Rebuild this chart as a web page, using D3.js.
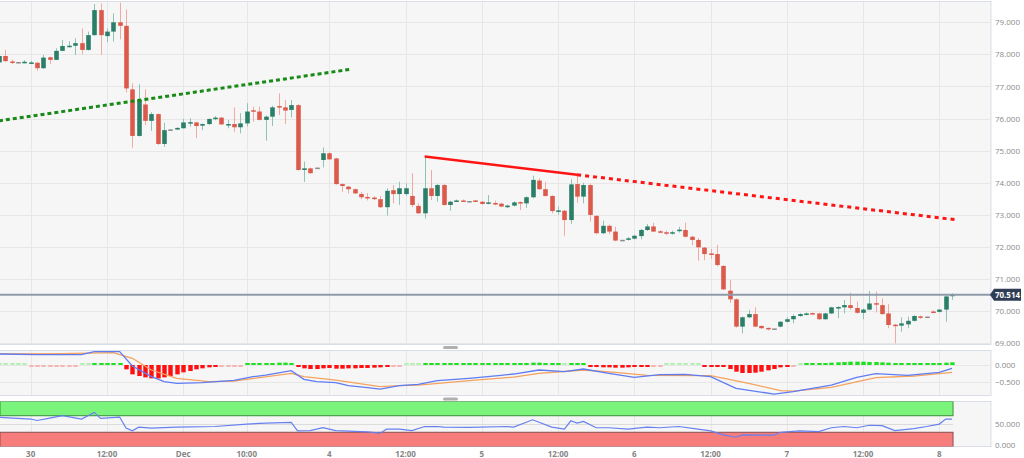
<!DOCTYPE html>
<html>
<head>
<meta charset="utf-8">
<script src="https://cdn.jsdelivr.net/npm/d3@7/dist/d3.min.js"></script>
<style>
  body { margin: 0; background: #fff; }
  svg { display: block; font-family: "Open Sans", sans-serif; }
</style>
</head>
<body>
<div id="chart-container"></div>
<script>
// hourly candles, index 0 = first visible candle
const openV = [77.75,77.95,77.78,77.74,77.75,77.73,77.74,77.57,77.91,77.83,78.11,78.25,78.27,78.35,78.14,78.60,79.38,78.57,78.71,79.00,
  78.89,76.91,75.46,76.44,75.93,76.14,75.21,75.64,75.66,75.70,75.87,75.88,75.78,75.83,75.99,76.03,75.81,75.83,75.73,75.85,
  76.26,76.22,75.96,76.06,76.39,76.35,76.27,76.42,74.40,74.45,74.45,74.71,74.92,74.76,73.96,73.88,73.80,73.65,73.56,73.54,
  73.49,73.24,73.77,73.65,73.65,73.59,73.28,73.05,73.83,73.59,73.93,73.31,73.42,73.45,73.41,73.45,73.41,73.37,73.37,73.35,
  73.24,73.29,73.40,73.36,73.55,74.07,73.80,73.59,73.12,73.13,72.84,73.96,73.57,73.93,72.97,72.43,72.66,72.48,72.20,72.24,
  72.26,72.34,72.53,72.64,72.49,72.46,72.44,72.52,72.53,72.32,72.22,71.98,71.80,71.78,71.41,70.64,70.37,69.52,69.81,69.91,
  69.54,69.48,69.44,69.52,69.67,69.75,69.85,69.90,69.94,69.93,69.75,69.93,70.11,70.12,70.19,70.10,69.95,70.05,70.25,70.19,
  69.93,69.58,69.55,69.59,69.70,69.84,69.81,69.99,69.98,70.05,70.48];
const highV = [78.00,78.14,77.83,77.76,77.82,77.80,77.76,77.98,77.93,78.19,78.45,78.41,78.50,78.81,78.71,79.57,79.59,78.81,79.28,79.61,
  79.40,77.10,77.07,76.91,76.20,76.16,75.87,75.66,75.73,75.99,76.01,75.90,75.85,76.00,76.08,76.05,75.96,76.35,76.17,76.48,
  76.37,76.37,76.10,76.40,76.79,76.58,76.58,76.45,74.66,74.47,74.47,75.10,74.95,74.78,73.98,73.90,73.82,73.72,73.68,73.58,
  73.59,73.83,73.93,74.03,73.98,74.30,73.36,74.82,74.40,73.97,73.96,73.44,73.48,73.48,73.43,73.47,73.43,73.62,73.44,73.38,
  73.32,73.42,73.42,73.58,74.22,74.14,74.03,73.61,73.26,73.15,74.11,74.25,74.00,73.98,72.99,72.82,72.70,72.63,72.22,72.31,
  72.38,72.56,72.72,72.75,72.52,72.51,72.51,72.63,72.76,72.35,72.28,72.00,71.94,72.06,71.43,70.97,70.40,69.84,70.04,70.12,
  69.56,69.49,69.45,69.69,69.81,69.90,69.94,69.96,69.96,69.95,69.95,70.14,70.16,70.35,70.58,70.30,70.08,70.63,70.61,70.40,
  70.22,69.60,69.81,69.83,69.88,69.86,69.82,70.03,70.07,70.50,70.56];
const lowV = [77.70,77.77,77.70,77.72,77.72,77.72,77.49,77.55,77.70,77.82,78.10,78.22,77.98,78.00,78.12,78.58,77.98,78.38,78.40,78.47,
  76.81,75.09,75.44,75.80,75.62,75.18,75.12,75.62,75.64,75.69,75.75,75.39,75.64,75.80,75.95,75.80,75.70,75.59,75.54,75.75,
  75.90,75.94,75.31,75.77,76.11,75.83,76.04,74.38,74.03,74.28,74.43,74.48,74.71,73.94,73.72,73.67,73.65,73.49,73.45,73.46,
  73.22,72.98,73.36,73.31,73.59,73.24,73.03,72.89,73.46,73.41,73.29,73.13,73.40,73.40,73.39,73.41,73.32,73.33,73.30,73.24,
  73.21,73.26,73.15,73.22,73.52,73.78,73.57,73.05,73.00,72.35,72.72,73.38,73.36,72.79,72.40,72.40,72.40,72.18,72.18,72.20,
  72.23,72.24,72.50,72.46,72.44,72.37,72.39,72.45,72.30,72.06,71.57,71.59,71.63,71.40,70.66,70.26,69.49,69.31,69.79,69.50,
  69.45,69.40,69.43,69.50,69.65,69.62,69.83,69.87,69.90,69.73,69.73,69.91,69.78,69.93,70.04,69.92,69.75,70.03,69.96,69.89,
  69.47,69.00,69.36,69.47,69.68,69.76,69.80,69.96,69.96,69.67,70.35];
const closeV = [77.95,77.79,77.75,77.74,77.77,77.75,77.57,77.90,77.83,78.11,78.26,78.27,78.35,78.14,78.60,79.38,78.60,78.71,79.00,78.89,
  76.94,75.46,76.58,75.93,76.14,75.21,75.64,75.64,75.71,75.88,75.89,75.77,75.83,75.99,76.03,75.82,75.83,75.73,75.85,76.22,
  76.22,75.96,76.06,76.35,76.35,76.25,76.42,74.40,74.45,74.30,74.45,74.92,74.73,73.96,73.90,73.80,73.67,73.55,73.54,73.49,
  73.24,73.75,73.65,73.83,73.83,73.31,73.05,73.83,73.59,73.93,73.31,73.41,73.45,73.43,73.41,73.43,73.34,73.39,73.35,73.26,
  73.29,73.39,73.38,73.55,74.09,73.80,73.59,73.12,73.14,72.84,73.95,73.57,73.93,73.00,72.43,72.66,72.48,72.20,72.20,72.27,
  72.35,72.53,72.64,72.48,72.46,72.44,72.46,72.54,72.32,72.22,71.99,71.78,71.77,71.44,70.68,70.37,69.52,69.81,69.91,69.52,
  69.47,69.46,69.44,69.67,69.75,69.85,69.91,69.93,69.92,69.75,69.93,70.12,70.13,70.19,70.10,69.95,70.05,70.24,70.23,69.91,
  69.57,69.56,69.62,69.70,69.85,69.82,69.81,69.97,70.05,70.46,70.514];

// time axis: candle index -> label
const timeTickIdx = [5, 17, 29, 39, 52, 64, 76, 88, 100, 112, 124, 136, 148];
const timeTickLabels = ["30", "12:00", "Dec", "10:00", "4", "12:00", "5", "12:00", "6", "12:00", "7", "12:00", "8"];
const priceTicks = [69, 70, 71, 72, 73, 74, 75, 76, 77, 78, 79];

// MACD histogram, one value per candle
const histV = [0.01,0.01,0.01,0.01,0.01, -0.01,-0.01,-0.01,-0.01,-0.01,-0.01,-0.01,-0.01, 0.01,0.01, 0.05, 0.02,0.02,0.02,0.02,
  -0.13,-0.28,-0.33,-0.37,-0.40,-0.40,-0.37,-0.33,-0.28,-0.22,-0.18,-0.13,-0.10,-0.07,-0.05,
  -0.01,-0.01,-0.01,-0.01,
  0.02,0.03,0.04,0.05,0.06,0.07,0.07,0.06,
  -0.03,-0.10,-0.12,-0.12,-0.10,-0.09,-0.11,-0.11,-0.10,-0.10,-0.09,-0.09,-0.08,-0.07,-0.03,
  -0.01,-0.01,0.01,0.01,0.01,
  0.02,0.03,0.04,0.05,0.04,0.04,0.04,0.03,0.03,0.03,0.03,0.03,0.02,0.02,0.02,0.02,0.03,0.07,0.07,0.05,0.02,0.02,0.00,0.03,0.04,0.03,
  -0.02,-0.05,-0.07,-0.07,-0.08,-0.08,-0.07,-0.06,-0.05,-0.03,
  -0.01,-0.01,
  0.01,0.01,0.01,0.01,0.01,0.01,
  -0.02,-0.02,-0.02,
  -0.06,-0.12,-0.20,-0.24,-0.24,-0.23,-0.20,-0.16,-0.12,-0.07,-0.03,
  -0.01,0.01,
  0.02,0.03,0.04,0.05,0.07,0.08,0.09,0.10,0.10,0.10,0.09,0.09,0.08,0.07,0.05,0.03,0.02,0.02,0.02,0.02,0.03,0.04,0.07,0.08];
const macdIdx = [0,6,13,15,19,21,24,26,28,32,37,40,42,46,48,50,53,55,58,60,63,66,69,74,79,81,85,89,92,96,100,104,108,112,116,122,125,131,135,138,143,148,150];
const macdV = [0.33,0.31,0.31,0.40,0.40,-0.03,-0.35,-0.50,-0.55,-0.53,-0.46,-0.35,-0.30,-0.17,-0.43,-0.50,-0.53,-0.62,-0.68,-0.72,-0.62,-0.58,-0.47,-0.40,-0.31,-0.27,-0.15,-0.20,-0.12,-0.25,-0.37,-0.29,-0.28,-0.35,-0.70,-0.87,-0.80,-0.60,-0.37,-0.26,-0.31,-0.22,-0.10];
const signalIdx = [0,10,18,21,24,28,33,37,46,48,53,60,63,66,74,81,85,92,97,102,112,118,123,125,131,138,144,150];
const signalV = [0.33,0.34,0.37,0.20,-0.15,-0.40,-0.50,-0.48,-0.25,-0.35,-0.45,-0.65,-0.62,-0.60,-0.47,-0.36,-0.25,-0.15,-0.22,-0.31,-0.32,-0.55,-0.77,-0.78,-0.67,-0.38,-0.33,-0.22];
const macdTicks = [0, -0.5];

// RSI
const rsiIdx = [0,5,6,8,10,13,15,16,19,20,21,22,24,28,34,39,42,46,47,49,51,53,58,60,61,63,65,67,69,70,74,80,81,84,87,89,90,91,92,94,96,99,102,104,107,110,112,114,116,117,122,123,126,129,131,133,135,137,139,141,144,146,148,149,150];
const rsiV = [66,62,58.5,64.4,70,62,78,63.4,66.8,40,33.4,42.4,40,42.4,43.9,49.8,52.2,53.7,33.4,34,41,34,31,27.8,37.5,37.5,34,43.9,43.9,42.4,42,43.9,42.4,60.2,42.4,37.5,57.8,52.2,56.3,41,41,37.5,42.4,41,44,37.5,33.4,23.7,18,23.7,23,30,33.4,31.7,41,44,41,47,46,34,39,44,49.8,61.9,62];
const rsiTicks = [50, 0];
const rsiBandLevels = [70, 30];

// trend lines: [candle index], [price]
const greenTrendIdx = [0, 55.5], greenTrendP = [75.93, 77.54];
const redTrendIdx = [67, 91], redTrendP = [74.82, 74.25];
const redExtIdx = [91, 151], redExtP = [74.25, 72.84];

const lastPrice = 70.514;

// ---------------------------------------------------------------
const W = 1024, H = 458;
const plotL = 0, plotR = 991;
const step = 6.354;

const x = d3.scaleLinear().domain([0, 156]).range([-1.07, -1.07 + 156 * step]);
const yPrice = d3.scaleLinear().domain([69, 79]).range([343.3, 22.3]);
const yMacd = d3.scaleLinear().domain([-0.5, 0]).range([381.7, 365]);
const yRsi = d3.scaleLinear().domain([0, 50]).range([444.7, 424]);

const panels = [
  { id: "main", top: 1.5, bottom: 344.5 },
  { id: "macd", top: 350.5, bottom: 395.5 },
  { id: "rsi", top: 401.5, bottom: 446.5 }
];

const GREEN = "#2b7f69", RED = "#dc5a4b";
const GREEN_W = "#8fc3b3", RED_W = "#f0aaa0";
const GRID = "#e7e7e7", BORDER = "#d9dde6", LABEL = "#8a8a8a";

const svg = d3.select("#chart-container").append("svg")
  .attr("width", W).attr("height", H);

const defs = svg.append("defs");

// panel backgrounds, clips, vertical grid
panels.forEach(p => {
  defs.append("clipPath").attr("id", "clip-" + p.id)
    .append("rect").attr("x", plotL).attr("y", p.top)
    .attr("width", plotR - plotL).attr("height", p.bottom - p.top);

  svg.append("rect")
    .attr("x", plotL - 1).attr("y", p.top)
    .attr("width", plotR - plotL + 1).attr("height", p.bottom - p.top)
    .attr("fill", "#f6f6f6").attr("stroke", BORDER);

  svg.append("g").selectAll("line").data(timeTickIdx).join("line")
    .attr("x1", d => Math.round(x(d)) + 0.5).attr("x2", d => Math.round(x(d)) + 0.5)
    .attr("y1", p.top + 0.5).attr("y2", p.bottom - 0.5)
    .attr("stroke", GRID);
});

// ---- main price panel
const main = svg.append("g").attr("clip-path", "url(#clip-main)");

main.selectAll("line.hgrid").data(priceTicks).join("line")
  .attr("class", "hgrid")
  .attr("x1", plotL).attr("x2", plotR)
  .attr("y1", d => Math.round(yPrice(d)) + 0.5).attr("y2", d => Math.round(yPrice(d)) + 0.5)
  .attr("stroke", GRID);

const candles = openV.map((o, i) => ({ i, o, h: highV[i], l: lowV[i], c: closeV[i] }));
const candleColor = d => d.c > d.o ? GREEN : (d.c < d.o ? RED : "#8c8c8c");
const wickColor = d => d.c > d.o ? GREEN_W : (d.c < d.o ? RED_W : "#9a9a9a");
const bodyW = 4.6;

main.selectAll("line.wick").data(candles).join("line")
  .attr("class", "wick")
  .attr("x1", d => Math.round(x(d.i)) + 0.5).attr("x2", d => Math.round(x(d.i)) + 0.5)
  .attr("y1", d => yPrice(d.h)).attr("y2", d => yPrice(d.l))
  .attr("stroke", wickColor).attr("stroke-width", 1);

main.selectAll("rect.body").data(candles).join("rect")
  .attr("class", "body")
  .attr("x", d => Math.round(x(d.i)) + 0.5 - bodyW / 2)
  .attr("y", d => d.o === d.c ? yPrice(d.o) - 0.75 : yPrice(Math.max(d.o, d.c)))
  .attr("width", bodyW)
  .attr("height", d => Math.max(1.5, Math.abs(yPrice(d.o) - yPrice(d.c))))
  .attr("fill", candleColor);

// trend lines
const trendLine = d3.line().x(d => x(d[0])).y(d => yPrice(d[1]));
main.append("path")
  .attr("d", trendLine(d3.zip(greenTrendIdx, greenTrendP)))
  .attr("fill", "none").attr("stroke", "#178a17").attr("stroke-width", 3)
  .attr("stroke-dasharray", "4,3");
main.append("path")
  .attr("d", trendLine(d3.zip(redTrendIdx, redTrendP)))
  .attr("fill", "none").attr("stroke", "#ff1414").attr("stroke-width", 2.5);
main.append("path")
  .attr("d", trendLine(d3.zip(redExtIdx, redExtP)))
  .attr("fill", "none").attr("stroke", "#ff1414").attr("stroke-width", 3)
  .attr("stroke-dasharray", "4,4");

// current price line
main.append("line")
  .attr("x1", plotL).attr("x2", plotR)
  .attr("y1", yPrice(lastPrice)).attr("y2", yPrice(lastPrice))
  .attr("stroke", "#8f9bab").attr("stroke-width", 2);

// ---- MACD panel
const macdG = svg.append("g").attr("clip-path", "url(#clip-macd)");
macdG.selectAll("line.hgrid").data(macdTicks).join("line")
  .attr("x1", plotL).attr("x2", plotR)
  .attr("y1", d => Math.round(yMacd(d)) + 0.5).attr("y2", d => Math.round(yMacd(d)) + 0.5)
  .attr("stroke", GRID);

const histColor = v => {
  const pale = Math.abs(v) <= 0.01;
  if (v >= 0) return pale ? "#b4efb4" : "#1fe01f";
  return pale ? "#f7b4b4" : "#ff1010";
};
macdG.selectAll("rect.hist").data(histV).join("rect")
  .attr("x", (d, i) => Math.round(x(i)) + 0.5 - 2.2)
  .attr("width", 4.4)
  .attr("y", d => d >= 0 ? Math.min(yMacd(d), yMacd(0) - 2) : yMacd(0))
  .attr("height", d => Math.max(2, Math.abs(yMacd(d) - yMacd(0))))
  .attr("fill", histColor);

const macdLine = d3.line().x(d => x(d[0])).y(d => yMacd(d[1]));
macdG.append("path").attr("d", macdLine(d3.zip(signalIdx, signalV)))
  .attr("fill", "none").attr("stroke", "#f5a35e").attr("stroke-width", 1.3);
macdG.append("path").attr("d", macdLine(d3.zip(macdIdx, macdV)))
  .attr("fill", "none").attr("stroke", "#5f7cf2").attr("stroke-width", 1.3);

// ---- RSI panel
const rsiG = svg.append("g").attr("clip-path", "url(#clip-rsi)");
const lastX = x(openV.length - 1) + 1;
const rsiTop = yRsi.invert(panels[2].top);

rsiG.append("rect")
  .attr("x", plotL).attr("y", yRsi(rsiTop))
  .attr("width", lastX - plotL).attr("height", yRsi(rsiBandLevels[0]) - yRsi(rsiTop))
  .attr("fill", "#7bf47b").attr("stroke", "#3b8e3b").attr("stroke-width", 1);
rsiG.append("rect")
  .attr("x", plotL).attr("y", yRsi(rsiBandLevels[1]))
  .attr("width", lastX - plotL).attr("height", yRsi(0) + 2 - yRsi(rsiBandLevels[1]))
  .attr("fill", "#f77c7c").attr("stroke", "#8c4f4f").attr("stroke-width", 1);

rsiG.selectAll("line.hgrid").data([50]).join("line")
  .attr("x1", plotL).attr("x2", lastX)
  .attr("y1", d => Math.round(yRsi(d)) + 0.5).attr("y2", d => Math.round(yRsi(d)) + 0.5)
  .attr("stroke", "#dcdcdc");

const rsiLine = d3.line().x(d => x(d[0])).y(d => yRsi(d[1]));
rsiG.append("path").attr("d", rsiLine(d3.zip(rsiIdx, rsiV)))
  .attr("fill", "none").attr("stroke", "#6680f0").attr("stroke-width", 1.2);

// ---- resize handles between panels
svg.selectAll("rect.handle").data([346, 397.5]).join("rect")
  .attr("x", 443).attr("y", d => d).attr("width", 15).attr("height", 3)
  .attr("rx", 1.5).attr("fill", "#b0b0b0");

// ---- right axis labels
const axisText = (sel) => sel
  .attr("x", 995)
  .attr("fill", LABEL)
  .style("font-size", "8px");

svg.append("g").selectAll("text").data(priceTicks).join("text")
  .text(d => d3.format(".3f")(d))
  .attr("y", d => yPrice(d) + 3)
  .call(axisText);
svg.append("g").selectAll("text").data(macdTicks).join("text")
  .text(d => d3.format(".3f")(d))
  .attr("y", d => yMacd(d) + 3)
  .call(axisText);
svg.append("g").selectAll("text").data(rsiTicks).join("text")
  .text(d => d3.format(".3f")(d))
  .attr("y", d => yRsi(d) + 3)
  .call(axisText);

// current price tag
const py = yPrice(lastPrice);
svg.append("path")
  .attr("d", `M${plotR - 1},${py} L${994},${py - 6} L${1021},${py - 6} L${1021},${py + 6} L${994},${py + 6} Z`)
  .attr("fill", "#2e3d55");
svg.append("text")
  .text(d3.format(".3f")(lastPrice))
  .attr("x", 1007.5).attr("y", py + 3)
  .attr("text-anchor", "middle")
  .attr("fill", "#fff")
  .style("font-size", "8px").style("font-weight", "700");

// ---- bottom time labels
svg.append("g").selectAll("text").data(timeTickIdx).join("text")
  .text((d, i) => timeTickLabels[i])
  .attr("x", d => x(d))
  .attr("y", 456.5)
  .attr("text-anchor", "middle")
  .attr("fill", "#858585")
  .style("font-size", "8px").style("font-weight", "700");
</script>
</body>
</html>
